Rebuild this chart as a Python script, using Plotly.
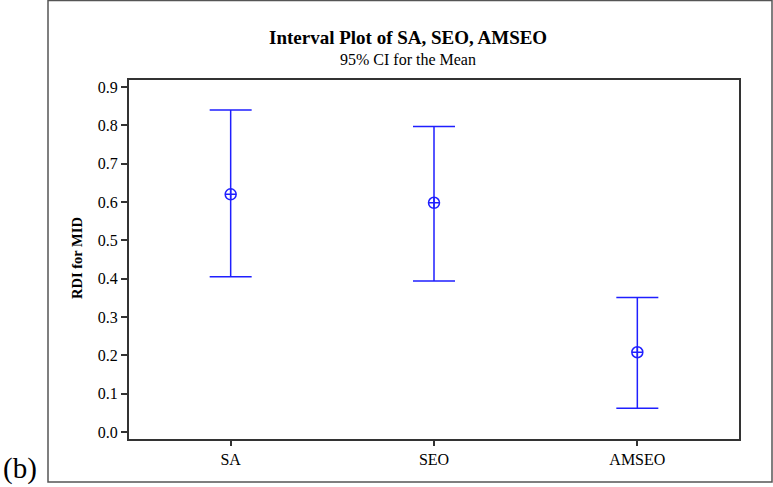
import plotly.graph_objects as go

categories = ["SA", "SEO", "AMSEO"]
means = [0.620, 0.598, 0.208]
upper = [0.840, 0.797, 0.351]
lower = [0.405, 0.394, 0.062]
y_ticks = [0.0, 0.1, 0.2, 0.3, 0.4, 0.5, 0.6, 0.7, 0.8, 0.9]

err_plus = [u - m for u, m in zip(upper, means)]
err_minus = [m - l for m, l in zip(means, lower)]

W, H = 773, 487
L, R, T, B = 129, 34, 80, 48
pw, ph = W - L - R, H - T - B

def px(x):
    return (x - L) / pw

def py(y):
    return (H - B - y) / ph

blue = "#1f1fff"
font = "Liberation Serif"

fig = go.Figure()
fig.add_trace(go.Scatter(
    x=[0, 1, 2], y=means, mode="markers",
    marker=dict(symbol="circle-cross-open", size=11, color=blue, line=dict(width=1.5, color=blue)),
    error_y=dict(type="data", symmetric=False, array=err_plus, arrayminus=err_minus,
                 color=blue, thickness=1.5, width=21),
    showlegend=False, hoverinfo="skip",
))

fig.update_layout(
    width=W, height=H,
    margin=dict(l=L, r=R, t=T, b=B),
    paper_bgcolor="white", plot_bgcolor="white",
    font=dict(family=font, color="black", size=16),
    xaxis=dict(range=[-0.5, 2.5], tickvals=[0, 1, 2], ticktext=categories,
               showgrid=False, zeroline=False, showline=True, linecolor="#333", linewidth=2,
               mirror=True, ticks="outside", ticklen=5, tickcolor="#333", tickwidth=1.5,
               tickfont=dict(family=font, size=16, color="black")),
    yaxis=dict(range=[-0.0183, 0.9183], tickvals=y_ticks, tickformat=".1f",
               showgrid=False, zeroline=False, showline=True, linecolor="#333", linewidth=2,
               mirror=True, ticks="outside", ticklen=6, tickcolor="#333", tickwidth=1.5,
               tickfont=dict(family=font, size=16, color="black")),
    shapes=[dict(type="rect", xref="paper", yref="paper",
                 x0=px(48), x1=px(772), y0=py(482), y1=py(0.5),
                 line=dict(color="#555", width=1.5), layer="below")],
    annotations=[
        dict(text="<b>Interval Plot of SA, SEO, AMSEO</b>", xref="paper", yref="paper",
             x=px(408), y=py(37), showarrow=False, font=dict(family=font, size=19),
             xanchor="center", yanchor="middle"),
        dict(text="95% CI for the Mean", xref="paper", yref="paper",
             x=px(408), y=py(59), showarrow=False, font=dict(family=font, size=16),
             xanchor="center", yanchor="middle"),
        dict(text="<b>RDI for MID</b>", xref="paper", yref="paper",
             x=px(77), y=py(258), showarrow=False, textangle=-90,
             font=dict(family=font, size=14.5), xanchor="center", yanchor="middle"),
        dict(text="(b)", xref="paper", yref="paper",
             x=px(1), y=py(486.5), showarrow=False,
             font=dict(family=font, size=29), xanchor="left", yanchor="bottom"),
    ],
)

fig.write_html("out.html")
